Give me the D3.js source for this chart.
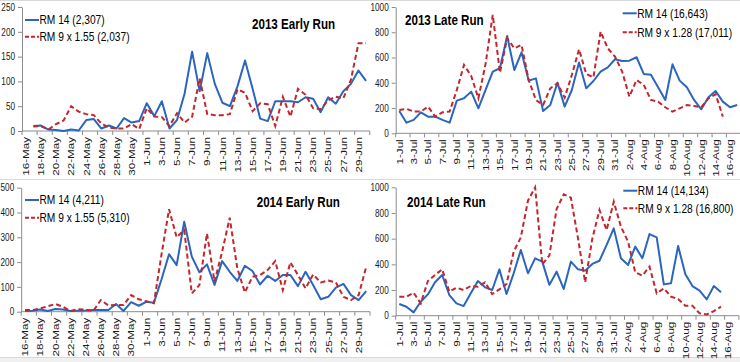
<!DOCTYPE html>
<html>
<head>
<meta charset="utf-8">
<script src="https://cdn.jsdelivr.net/npm/d3@7/dist/d3.min.js"></script>
<style>
body { margin: 0; background: #fff; }
svg { display: block; }
text { font-family: "Liberation Sans", Arial, sans-serif; }
</style>
</head>
<body>
<div id="chart"></div>
<script>
// daily counts, one value per category (null = no count that day)
var early2013Rm14 = [null, 10, 11, 3, 2, 0, 3, 1, 22, 24, 5, 11, 5, 26, 17, 20, 56, 30, 60, 5, 22, 75, 160, 80, 157, 95, 57, 50, 90, 142, 85, 25, 20, 60, 60, 60, 58, 68, 65, 38, 68, 55, 80, 95, 122, 101];
var early2013Rm9 = [null, 9, 10, 3, 14, 21, 50, 39, 34, 32, 15, 7, 5, 5, 14, 4, 46, 29, 28, 10, 36, 17, 29, 106, 34, 32, 32, 34, 84, 77, 40, 56, 54, 10, 69, 29, 85, 73, 46, 44, 62, 69, 66, 103, 177, 177];
var late2013Rm14 = [177, 84, 106, 166, 132, 132, 106, 84, 259, 277, 330, 198, 343, 488, 515, 770, 501, 641, 417, 435, 177, 224, 401, 211, 343, 560, 356, 414, 488, 522, 586, 573, 575, 602, 470, 464, 364, 264, 546, 417, 364, 264, 190, 285, 335, 251, 206, 224];
var late2013Rm9 = [185, 193, 172, 172, 211, 132, 166, 172, 343, 541, 454, 277, 550, 937, 480, 752, 673, 700, 422, 264, 224, 356, 396, 283, 462, 665, 470, 443, 805, 673, 607, 488, 290, 422, 383, 264, 251, 206, 172, 198, 224, 216, 206, 277, 309, 132];
var early2014Rm14 = [3, 4, 9, 3, 11, 9, 3, 4, 5, 7, 7, 7, 31, 3, 39, 24, 40, 36, 130, 232, 188, 363, 222, 159, 191, 108, 204, 161, 124, 185, 164, 110, 145, 124, 148, 148, 103, 161, 108, 50, 60, 97, 112, 67, 47, 83];
var early2014Rm9 = [7, 7, 13, 22, 31, 20, 3, 10, 8, 3, 47, 25, 27, 27, 67, 50, 42, 34, 230, 413, 300, 329, 74, 107, 316, 121, 242, 379, 175, 78, 141, 148, 168, 204, 87, 199, 148, 94, 150, 118, 126, 118, 60, 47, 67, 181];
var late2014Rm14 = [91, 70, 26, 109, 166, 260, 317, 161, 96, 75, 174, 270, 221, 200, 361, 169, 330, 512, 330, 447, 421, 240, 343, 208, 421, 361, 351, 403, 428, 551, 680, 447, 395, 538, 447, 636, 610, 244, 252, 543, 325, 231, 195, 127, 231, 182];
var late2014Rm9 = [148, 148, 179, 96, 270, 317, 361, 187, 218, 200, 231, 226, 260, 169, 205, 247, 499, 610, 896, 1000, 400, 470, 830, 945, 919, 602, 260, 600, 823, 667, 888, 693, 577, 338, 312, 382, 174, 213, 148, 130, 78, 78, 18, 10, 36, 70];

var titles = ["2013 Early Run", "2013 Late Run", "2014 Early Run", "2014 Late Run"];
var rm14Labels = ["RM 14 (2,307)", "RM 14 (16,643)", "RM 14 (4,211)", "RM 14 (14,134)"];
var rm9Labels = ["RM 9 x 1.55 (2,037)", "RM 9 x 1.28 (17,011)", "RM 9 x 1.55 (5,310)", "RM 9 x 1.28 (16,800)"];
var yTicks = [
    [0, 50, 100, 150, 200, 250],
    [0, 200, 400, 600, 800, 1000],
    [0, 100, 200, 300, 400, 500],
    [0, 200, 400, 600, 800, 1000]
];

var parseDay = d3.timeParse("%Y-%m-%d");
var fmtDay = d3.timeFormat("%-d-%b");
function dayRange(from, to) {
    return d3.timeDay.range(parseDay(from), d3.timeDay.offset(parseDay(to), 1)).map(fmtDay);
}
var earlyDays = dayRange("2013-05-16", "2013-06-30");
var lateDays = dayRange("2013-07-01", "2013-08-17");

var series = [
    { cats: earlyDays, rm14: early2013Rm14, rm9: early2013Rm9 },
    { cats: lateDays, rm14: late2013Rm14, rm9: late2013Rm9 },
    { cats: earlyDays, rm14: early2014Rm14, rm9: early2014Rm9 },
    { cats: lateDays, rm14: late2014Rm14, rm9: late2014Rm9 }
];

// where each panel sits on the page
var layout = [
    { x0: 22, x1: 369.8, yB: 131, yT: 7, titleX: 252, titleY: 29, legX: 25, legY: [20, 36.7] },
    { x0: 395.7, x1: 740.8, yB: 133.3, yT: 7, titleX: 405, titleY: 25, legX: 622.7, legY: [13.3, 32.3] },
    { x0: 21.2, x1: 370, yB: 311.7, yT: 187.7, titleX: 256.7, titleY: 206.7, legX: 25, legY: [200, 217.7] },
    { x0: 395.7, x1: 738.9, yB: 315.7, yT: 187.3, titleX: 407, titleY: 207.3, legX: 623.3, legY: [190.7, 208.3] }
];

var blue = "#2a66bd";
var red = "#c1272d";
var axisColor = "#8c8c8c";
var stretch = 1.25; // the picture's text is taller than it is wide

var svg = d3.select("#chart")
    .append("svg")
    .attr("width", 740)
    .attr("height", 362);

svg.append("rect").attr("width", 740).attr("height", 362).attr("fill", "#fff");
svg.append("rect").attr("x", 0).attr("y", 358).attr("width", 740).attr("height", 4).attr("fill", "#f0f0f0");
[0.5, 179.5, 357.5].forEach(y => {
    svg.append("line")
        .attr("x1", 0).attr("x2", 740).attr("y1", y).attr("y2", y)
        .attr("stroke", "#d9d9d9");
});

function tallText(sel, x, y) {
    return sel.attr("transform", "translate(" + x + "," + y + ") scale(1," + stretch + ")");
}

series.forEach((s, p) => {
    var L = layout[p];
    var g = svg.append("g");

    var x = d3.scalePoint()
        .domain(s.cats)
        .range([L.x0, L.x1])
        .padding(0.5);
    var step = x.step();

    var y = d3.scaleLinear()
        .domain([0, d3.max(yTicks[p])])
        .range([L.yB, L.yT]);

    // y axis
    var yAxis = g.append("g")
        .attr("transform", "translate(" + L.x0 + ",0)")
        .call(d3.axisLeft(y).tickValues(yTicks[p]).tickFormat(d3.format("d"))
            .tickSize(4).tickSizeOuter(0).tickPadding(3));
    yAxis.select(".domain").attr("stroke", axisColor);
    yAxis.selectAll(".tick line").attr("stroke", axisColor);
    yAxis.selectAll("text")
        .attr("font-size", "8.2px")
        .attr("fill", "#1a1a1a")
        .attr("transform", "scale(1," + stretch + ")")
        .style("font-family", "'Liberation Sans', Arial, sans-serif");

    // x axis: ticks and labels every second day
    var xg = g.append("g");
    xg.append("line")
        .attr("x1", L.x0).attr("x2", L.x1)
        .attr("y1", L.yB).attr("y2", L.yB)
        .attr("stroke", axisColor);
    var bounds = d3.range(0, s.cats.length + 1, 2);
    xg.selectAll(".xt")
        .data(bounds)
        .enter().append("line")
        .attr("x1", k => L.x0 + k * step).attr("x2", k => L.x0 + k * step)
        .attr("y1", L.yB).attr("y2", L.yB + 4)
        .attr("stroke", axisColor);
    var shown = s.cats.filter((c, i) => i % 2 === 0);
    xg.selectAll(".xl")
        .data(shown)
        .enter().append("text")
        .attr("transform", c => "translate(" + x(c) + "," + (L.yB + 6) + ") scale(1," + stretch + ") rotate(-90)")
        .attr("dy", "0.35em")
        .attr("text-anchor", "end")
        .attr("font-size", "9.3px")
        .attr("fill", "#1a1a1a")
        .text(c => c);

    // lines
    var line = d3.line()
        .defined(d => d.v != null)
        .x(d => x(d.c))
        .y(d => y(d.v));

    var rm14 = s.rm14.map((v, i) => ({ c: s.cats[i], v: v }));
    var rm9 = s.rm9.map((v, i) => ({ c: s.cats[i], v: v }));

    g.append("path")
        .datum(rm14)
        .attr("d", line)
        .attr("fill", "none")
        .attr("stroke", blue)
        .attr("stroke-width", 2)
        .attr("stroke-linejoin", "round");

    g.append("path")
        .datum(rm9)
        .attr("d", line)
        .attr("fill", "none")
        .attr("stroke", red)
        .attr("stroke-width", 2)
        .attr("stroke-dasharray", "5,3");

    // title
    g.append("text")
        .call(tallText, L.titleX, L.titleY)
        .attr("font-size", "11.6px")
        .attr("font-weight", "bold")
        .attr("fill", "#000")
        .text(titles[p]);

    // legend
    var legItems = [
        { label: rm14Labels[p], color: blue, dash: null },
        { label: rm9Labels[p], color: red, dash: "4,2" }
    ];
    legItems.forEach((it, j) => {
        g.append("line")
            .attr("x1", L.legX).attr("x2", L.legX + 14)
            .attr("y1", L.legY[j]).attr("y2", L.legY[j])
            .attr("stroke", it.color)
            .attr("stroke-width", 2)
            .attr("stroke-dasharray", it.dash);
        g.append("text")
            .call(tallText, L.legX + 14.5, L.legY[j])
            .attr("dy", "0.35em")
            .attr("font-size", "10.2px")
            .attr("fill", "#000")
            .text(it.label);
    });
});
</script>
</body>
</html>
